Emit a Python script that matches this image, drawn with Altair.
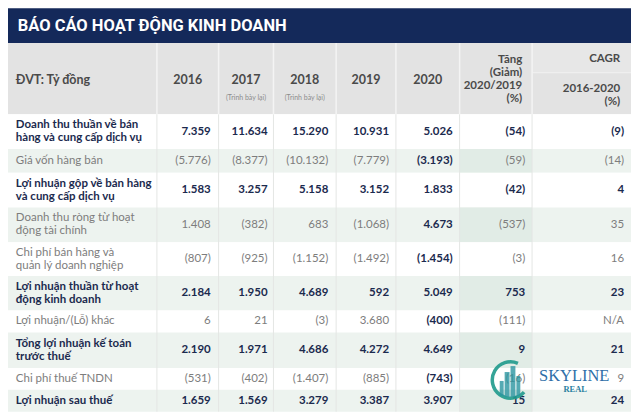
import altair as alt
import pandas as pd

# ---------------- data ----------------
title = "BÁO CÁO HOẠT ĐỘNG KINH DOANH"
unit_label = "ĐVT: Tỷ đồng"
years = ["2016", "2017", "2018", "2019", "2020"]
restated_note = "(Trình bày lại)"
restated_years = ["2017", "2018"]
change_header = "Tăng\n(Giảm)\n2020/2019\n(%)"
cagr_header = "CAGR"
cagr_sub = "2016-2020\n(%)"

row_labels = [
    "Doanh thu thuần về bán\nhàng và cung cấp dịch vụ",
    "Giá vốn hàng bán",
    "Lợi nhuận gộp về bán hàng\nvà cung cấp dịch vụ",
    "Doanh thu ròng từ hoạt\nđộng tài chính",
    "Chi phí bán hàng và\nquản lý doanh nghiệp",
    "Lợi nhuận thuần từ hoạt\nđộng kinh doanh",
    "Lợi nhuận/(Lỗ) khác",
    "Tổng lợi nhuận kế toán\ntrước thuế",
    "Chi phí thuế TNDN",
    "Lợi nhuận sau thuế",
]
row_is_total = [True, False, True, False, False, True, False, True, False, True]

v2016 = ["7.359", "(5.776)", "1.583", "1.408", "(807)", "2.184", "6", "2.190", "(531)", "1.659"]
v2017 = ["11.634", "(8.377)", "3.257", "(382)", "(925)", "1.950", "21", "1.971", "(402)", "1.569"]
v2018 = ["15.290", "(10.132)", "5.158", "683", "(1.152)", "4.689", "(3)", "4.686", "(1.407)", "3.279"]
v2019 = ["10.931", "(7.779)", "3.152", "(1.068)", "(1.492)", "592", "3.680", "4.272", "(885)", "3.387"]
v2020 = ["5.026", "(3.193)", "1.833", "4.673", "(1.454)", "5.049", "(400)", "4.649", "(743)", "3.907"]
change = ["(54)", "(59)", "(42)", "(537)", "(3)", "753", "(111)", "9", "(16)", "15"]
cagr = ["(9)", "(14)", "4", "35", "16", "23", "N/A", "21", "9", "24"]

logo_name = "SKYLINE"
logo_sub = "REAL"

# ---------------- layout (reference pixel space) ----------------
COL_EDGES = [2, 154, 217, 273, 337, 398, 463, 537, 638]
ROW_EDGES = [117, 152, 176, 211, 246, 280, 315, 337, 373, 395, 417]
NUM_RIGHT = [209, 267, 329, 391, 456, 530, 631]
TITLE_TOP, HEAD_TOP, HEAD_BOT = 10, 45, 117
LH = 13

NAVY = "#14295a"
HEAD_BG = "#e3e3e3"
GREEN = "#edf3ef"
GREEN_DARK = "#e1ece6"
TXT_BOLD = "#1b2a4e"
TXT_NORM = "#7d7d7d"
TXT_HEAD = "#4a4a4a"
FONT = "Lato"

X = alt.Scale(domain=[2, 638], nice=False, zero=False)
Y = alt.Scale(domain=[10, 417], nice=False, zero=False, reverse=True)

# ---------------- rectangles ----------------
rects = [
    dict(x=2, x2=638, y=TITLE_TOP, y2=HEAD_TOP, fill=NAVY),
    dict(x=2, x2=638, y=HEAD_TOP, y2=HEAD_BOT, fill=HEAD_BG),
    dict(x=COL_EDGES[7], x2=638, y=HEAD_TOP, y2=75, fill="#e7e7e7"),
]
for i in range(len(row_labels)):
    fill = "#ffffff" if i % 2 == 0 else GREEN
    rects.append(dict(x=2, x2=638, y=ROW_EDGES[i], y2=ROW_EDGES[i + 1], fill=fill))
    if i % 2 == 1:
        rects.append(dict(x=COL_EDGES[6], x2=COL_EDGES[7], y=ROW_EDGES[i],
                          y2=ROW_EDGES[i + 1], fill=GREEN_DARK))
rect_df = pd.DataFrame(rects)

rect_layer = alt.Chart(rect_df).mark_rect().encode(
    x=alt.X("x:Q", scale=X, axis=None),
    x2="x2:Q",
    y=alt.Y("y:Q", scale=Y, axis=None),
    y2="y2:Q",
    color=alt.Color("fill:N", scale=None),
)

# ---------------- separator rules ----------------
rules = []
for cx in COL_EDGES[1:-1]:
    rules.append(dict(x=cx, y=HEAD_TOP, y2=HEAD_BOT, c="#f4f4f4", w=1.5))
    rules.append(dict(x=cx, y=HEAD_BOT, y2=ROW_EDGES[-1], c="#e4e6e4", w=1))
rule_df = pd.DataFrame(rules)
rule_layer = alt.Chart(rule_df).mark_rule().encode(
    x=alt.X("x:Q", scale=X, axis=None),
    y=alt.Y("y:Q", scale=Y, axis=None),
    y2="y2:Q",
    color=alt.Color("c:N", scale=None),
    strokeWidth=alt.StrokeWidth("w:Q", scale=None),
)
hrule_df = pd.DataFrame([dict(x=COL_EDGES[7], x2=638, y=75, c="#f2f2f2", w=1)])
hrule_layer = alt.Chart(hrule_df).mark_rule().encode(
    x=alt.X("x:Q", scale=X, axis=None),
    x2="x2:Q",
    y=alt.Y("y:Q", scale=Y, axis=None),
    color=alt.Color("c:N", scale=None),
    strokeWidth=alt.StrokeWidth("w:Q", scale=None),
)

# ---------------- texts ----------------
texts = []  # x, y (centre of block), text, color, size, align, weight


def add(x, y, t, color, size, align, weight):
    n = t.count("\n") + 1
    y_first = y - (n - 1) * LH / 2  # first line position so block is centred
    texts.append(dict(x=x, y=y_first, t=t, c=color, s=size, align=align, weight=weight))


# header
add(10, 82, unit_label, TXT_HEAD, 12.5, "left", "bold")
year_centers = [(COL_EDGES[k + 1] + COL_EDGES[k + 2]) / 2 for k in range(5)]
for k, yr in enumerate(years):
    add(year_centers[k], 82, yr, TXT_HEAD, 12.5, "center", "bold")
    if yr in restated_years:
        add(year_centers[k], 100, restated_note, "#8c8c8c", 7, "center", "normal")
add(527, 82, change_header, TXT_HEAD, 11.5, "right", "bold")
add(627, 61, cagr_header, TXT_HEAD, 11.5, "right", "bold")
add(627, 97.5, cagr_sub, TXT_HEAD, 11.5, "right", "bold")

# body
cols = [v2016, v2017, v2018, v2019, v2020, change, cagr]
for i, lab in enumerate(row_labels):
    yc = (ROW_EDGES[i] + ROW_EDGES[i + 1]) / 2
    tot = row_is_total[i]
    add(10, yc, lab, TXT_BOLD if tot else TXT_NORM, 11.5,
        "left", "bold" if tot else "normal")
    for j, col in enumerate(cols):
        bold = tot or j == 4
        add(NUM_RIGHT[j], yc, col[i], TXT_BOLD if bold else TXT_NORM, 11.5,
            "right", "bold" if bold else "normal")

text_df = pd.DataFrame(texts)


def text_layer(align, weight):
    sub = text_df[(text_df["align"] == align) & (text_df["weight"] == weight)]
    return alt.Chart(sub).mark_text(
        align=align, baseline="middle", fontWeight=weight, font=FONT,
        lineBreak="\n", lineHeight=LH,
    ).encode(
        x=alt.X("x:Q", scale=X, axis=None),
        y=alt.Y("y:Q", scale=Y, axis=None),
        text="t:N",
        color=alt.Color("c:N", scale=None),
        size=alt.Size("s:Q", scale=None),
    )


text_layers = [text_layer(a, w) for a in ["left", "center", "right"]
               for w in ["bold", "normal"]
               if len(text_df[(text_df["align"] == a) & (text_df["weight"] == w)])]

title_layer = alt.Chart(pd.DataFrame([dict(x=12, y=28, t=title)])).mark_text(
    align="left", baseline="middle", fontWeight="bold",
    font="Roboto", fontSize=16.5, color="#ffffff",
).encode(
    x=alt.X("x:Q", scale=X, axis=None),
    y=alt.Y("y:Q", scale=Y, axis=None),
    text="t:N",
)

# ---------------- watermark logo ----------------
ring = alt.Chart(pd.DataFrame([dict(x=515, y=385)])).mark_arc(
    radius=20, radius2=16.5, theta=2.3, theta2=6.7, color="#1f9a8c", opacity=0.9,
).encode(
    x=alt.X("x:Q", scale=X, axis=None),
    y=alt.Y("y:Q", scale=Y, axis=None),
)
bld_df = pd.DataFrame([
    dict(x=504, x2=508, y=386, y2=401),
    dict(x=509, x2=514, y=377, y2=402),
    dict(x=515, x2=520, y=371, y2=402),
    dict(x=521, x2=525, y=381, y2=401),
])
buildings = alt.Chart(bld_df).mark_rect(color="#2a95a0", opacity=0.8).encode(
    x=alt.X("x:Q", scale=X, axis=None),
    x2="x2:Q",
    y=alt.Y("y:Q", scale=Y, axis=None),
    y2="y2:Q",
)
logo_txt = alt.Chart(pd.DataFrame([
    dict(x=580, y=381, t=logo_name, s=16.5),
])).mark_text(
    align="center", baseline="middle", font="Liberation Serif",
    color="#2f6fa8",
).encode(
    x=alt.X("x:Q", scale=X, axis=None),
    y=alt.Y("y:Q", scale=Y, axis=None),
    text="t:N",
    size=alt.Size("s:Q", scale=None),
)
logo_sub_txt = alt.Chart(pd.DataFrame([dict(x=581, y=394, t=logo_sub)])).mark_text(
    align="center", baseline="middle", font="Liberation Serif", fontWeight="bold",
    fontSize=8.5, color="#2a80a0",
).encode(
    x=alt.X("x:Q", scale=X, axis=None),
    y=alt.Y("y:Q", scale=Y, axis=None),
    text="t:N",
)

chart = alt.layer(
    rect_layer, rule_layer, hrule_layer, title_layer, *text_layers,
    ring, buildings, logo_txt, logo_sub_txt,
).properties(
    width=624, height=404, padding=0, background="#ffffff",
).configure_view(stroke=None)

chart.save("out.html", embed_options={"renderer": "svg", "actions": False})
